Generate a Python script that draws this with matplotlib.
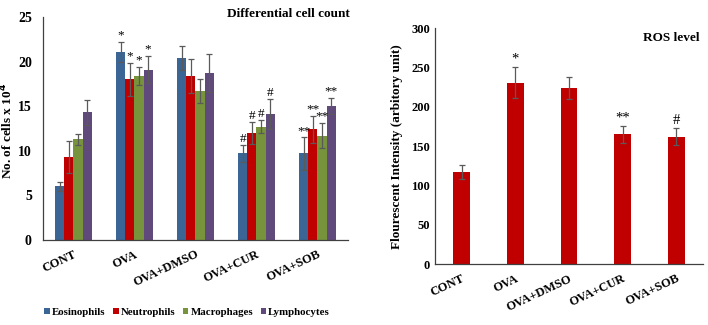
import matplotlib
matplotlib.use("Agg")
import matplotlib.pyplot as plt
import numpy as np

categories = ["CONT", "OVA", "OVA+DMSO", "OVA+CUR", "OVA+SOB"]
cell_types = ["Eosinophils", "Neutrophils", "Macrophages", "Lymphocytes"]
eos = [6.0, 21.1, 20.4, 9.7, 9.7]
eos_err = [0.55, 1.1, 1.3, 0.9, 1.8]
neu = [9.3, 18.0, 18.4, 12.0, 12.4]
neu_err = [1.8, 1.85, 1.9, 1.2, 1.5]
mac = [11.3, 18.4, 16.7, 12.7, 11.7]
mac_err = [0.6, 1.0, 1.3, 0.75, 1.4]
lym = [14.3, 19.1, 18.7, 14.1, 15.0]
lym_err = [1.4, 1.5, 2.1, 1.7, 0.9]
cell_marks = [
    ["", "", "", ""],
    ["*", "*", "*", "*"],
    ["", "", "", ""],
    ["#", "#", "#", "#"],
    ["**", "**", "**", "**"],
]
ros = [117, 231, 224, 165, 162]
ros_err = [9, 20, 14, 11, 11]
ros_marks = ["", "*", "", "**", "#"]

plt.rcParams['font.family'] = ['Liberation Serif', 'DejaVu Serif']
plt.rcParams['font.weight'] = 'bold'

colors = ["#3A6594", "#C00000", "#77933C", "#604A7B"]
errc = "#5a5a5a"

fig = plt.figure(figsize=(7.08, 3.25), dpi=100)
ax1 = fig.add_axes([0.0607, 0.2615, 0.4308, 0.6862])
ax2 = fig.add_axes([0.6144, 0.1868, 0.3786, 0.7262])

x = np.arange(len(categories))
w = 0.148
series = [eos, neu, mac, lym]
errs = [eos_err, neu_err, mac_err, lym_err]
for i, (vals, er) in enumerate(zip(series, errs)):
    pos = x + (i - 1.5) * w
    ax1.bar(pos, vals, width=w, color=colors[i], label=cell_types[i],
            yerr=er, error_kw=dict(ecolor=errc, elinewidth=0.9, capsize=2.2, capthick=0.9),
            edgecolor='none')
    for j in range(len(categories)):
        m = cell_marks[j][i]
        if m:
            ax1.text(pos[j], vals[j] + er[j] + 0.05, m, ha='center', va='bottom',
                     fontsize=9.5, fontweight='normal')

ax1.set_xlim(-0.5, 4.5)
ax1.set_ylim(0, 25)
ax1.set_yticks([0, 5, 10, 15, 20, 25])
ax1.set_xticks(x)
ax1.set_xticklabels(categories, rotation=25, ha='right', rotation_mode='anchor')
ax1.tick_params(axis='y', length=0, labelsize=10, pad=8)
ax1.tick_params(axis='x', length=0, labelsize=9, pad=6)
ax1.set_ylabel("No. of cells x 10$^{4}$", fontsize=9.5, fontweight='bold', va='center')
ax1.yaxis.set_label_coords(-0.118, 0.49)
for s in ['top', 'right']:
    ax1.spines[s].set_visible(False)
for s in ['left', 'bottom']:
    ax1.spines[s].set_color('#404040')
    ax1.spines[s].set_linewidth(0.9)
fig.text(0.494, 0.975, "Differential cell count", ha='right', va='top', fontsize=9.5, fontweight='bold')
leg = fig.legend(loc='lower left', bbox_to_anchor=(0.049, -0.005), ncol=4, frameon=False,
                 fontsize=7.8, handlelength=0.5, handleheight=0.5, handletextpad=0.2,
                 columnspacing=0.7)

ax2.bar(x, ros, width=0.31, color="#C00000", yerr=ros_err,
        error_kw=dict(ecolor=errc, elinewidth=0.9, capsize=2.5, capthick=0.9), edgecolor='none')
for j in range(len(categories)):
    if ros_marks[j]:
        ax2.text(x[j], ros[j] + ros_err[j] + 2, ros_marks[j], ha='center', va='bottom',
                 fontsize=10.5, fontweight='normal')
ax2.set_xlim(-0.5, 4.5)
ax2.set_ylim(0, 300)
ax2.set_yticks([0, 50, 100, 150, 200, 250, 300])
ax2.set_xticks(x)
ax2.set_xticklabels(categories, rotation=25, ha='right', rotation_mode='anchor')
ax2.tick_params(axis='both', length=0, labelsize=9)
ax2.tick_params(axis='x', pad=6)
ax2.set_ylabel("Flourescent Intensity (arbitory unit)", fontsize=9.5, fontweight='bold', labelpad=6)
for s in ['top', 'right']:
    ax2.spines[s].set_visible(False)
for s in ['left', 'bottom']:
    ax2.spines[s].set_color('#404040')
    ax2.spines[s].set_linewidth(0.9)
ax2.text(0.985, 0.985, "ROS level", transform=ax2.transAxes, ha='right', va='top',
         fontsize=9.5, fontweight='bold')

fig.savefig("out.png", dpi=100)
